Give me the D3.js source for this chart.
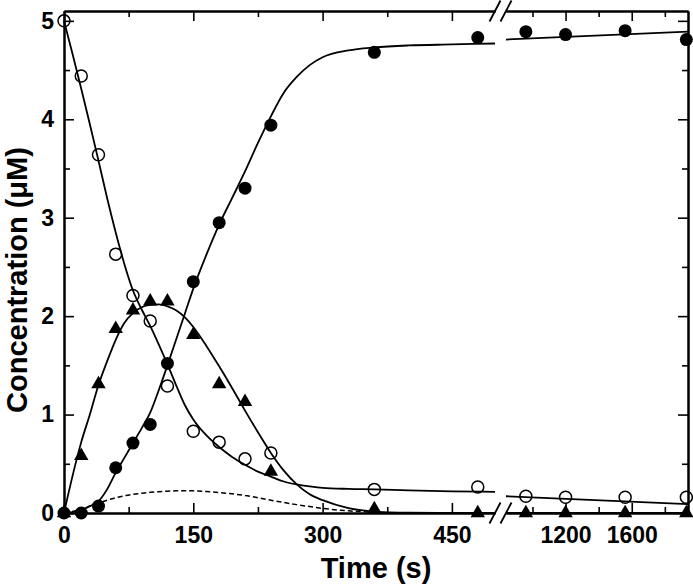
<!DOCTYPE html>
<html>
<head>
<meta charset="utf-8">
<script src="https://cdn.jsdelivr.net/npm/d3@7/dist/d3.min.js"></script>
<style>
  body { margin: 0; background: #fff; }
  svg text { font-family: "Liberation Sans", Arial, sans-serif; font-weight: bold; }
</style>
</head>
<body>
<div id="chart"></div>
<script>
// Measured points (time in s, concentration in uM)
const timeEarly = [0, 20, 40, 60, 80, 100, 120, 150, 180, 210, 240, 360, 480];
const timeLate = [960, 1200, 1560, 1930];

const substrateEarly = [5.0, 4.44, 3.64, 2.63, 2.21, 1.95, 1.29, 0.83, 0.72, 0.55, 0.61, 0.24, 0.265];
const substrateLate = [0.17, 0.16, 0.16, 0.16];
const intermediateEarly = [0, 0.58, 1.31, 1.87, 2.06, 2.15, 2.15, 1.81, 1.31, 1.13, 0.42, 0.04, 0];
const intermediateLate = [0, 0, 0, 0];
const productEarly = [0, 0, 0.07, 0.46, 0.71, 0.90, 1.52, 2.35, 2.95, 3.30, 3.94, 4.68, 4.83];
const productLate = [4.89, 4.86, 4.90, 4.81];

// Fitted curves
const fitTimeEarly = [0, 10, 20, 30, 40, 50, 60, 70, 80, 90, 100, 110, 120, 130, 140, 150, 165, 180, 195, 210, 225, 240, 255, 270, 285, 300, 330, 360, 400, 450, 500];
const fitTimeLate = [840, 1940];

const substrateFit = [5.00, 4.66, 4.31, 3.95, 3.58, 3.20, 2.85, 2.53, 2.26, 2.07, 1.90, 1.71, 1.51, 1.30, 1.10, 0.95, 0.79, 0.67, 0.57, 0.49, 0.42, 0.37, 0.32, 0.29, 0.27, 0.255, 0.245, 0.24, 0.23, 0.22, 0.215];
const substrateFitLate = [0.17, 0.09];
const intermediateFit = [0, 0.38, 0.72, 1.00, 1.30, 1.54, 1.76, 1.93, 2.03, 2.09, 2.115, 2.12, 2.10, 2.06, 1.99, 1.89, 1.70, 1.49, 1.27, 1.04, 0.82, 0.61, 0.43, 0.29, 0.19, 0.13, 0.05, 0.015, 0.003, 0, 0];
const intermediateFitLate = [0, 0];
const productFit = [0, 0.01, 0.03, 0.07, 0.12, 0.24, 0.41, 0.56, 0.71, 0.86, 1.02, 1.25, 1.50, 1.76, 2.02, 2.28, 2.62, 2.93, 3.20, 3.47, 3.76, 4.03, 4.27, 4.43, 4.55, 4.63, 4.70, 4.73, 4.75, 4.76, 4.77];
const productFitLate = [4.81, 4.89];
const dashedFit = [0, 0.015, 0.04, 0.07, 0.10, 0.13, 0.155, 0.175, 0.19, 0.20, 0.21, 0.217, 0.222, 0.225, 0.226, 0.225, 0.218, 0.208, 0.195, 0.178, 0.155, 0.13, 0.107, 0.085, 0.065, 0.047, 0.022, 0.008, 0.001, 0, 0];

// Axis ticks
const xMajorEarly = [0, 150, 300, 450];
const xMinorEarly = [75, 225, 375];
const xMajorLate = [1200, 1600];
const xMinorLate = [1000, 1400, 1800];
const yMajor = [0, 1, 2, 3, 4, 5];
const yMinor = [0.5, 1.5, 2.5, 3.5, 4.5];

const width = 693, height = 588;
const font = '"Liberation Sans", Arial, sans-serif';

const svg = d3.select("#chart")
    .append("svg")
    .attr("width", width)
    .attr("height", height);

// Broken x axis: two linear pieces
const xEarly = d3.scaleLinear().domain([0, 500]).range([64, 495]);
const xLate = d3.scaleLinear().domain([840, 1940]).range([506, 688]);
const y = d3.scaleLinear().domain([0, 5.1]).range([513, 11]);

const plotTop = y.range()[1], plotBottom = y.range()[0];

function styleAxis(g, size) {
    g.attr("font-family", font).attr("font-size", size).attr("font-weight", "bold");
    g.select(".domain").attr("stroke-width", 2);
    g.selectAll(".tick line").attr("stroke-width", 1.6);
    g.selectAll(".tick text").attr("fill", "#000");
}

// Bottom and top axes for both pieces
[[xEarly, xMajorEarly, xMinorEarly], [xLate, xMajorLate, xMinorLate]].forEach(([sc, major, minor]) => {
    svg.append("g")
        .attr("transform", `translate(0,${plotBottom})`)
        .call(d3.axisBottom(sc).tickValues(major).tickSizeInner(-10).tickSizeOuter(0).tickPadding(14).tickFormat(d3.format("d")))
        .call(g => styleAxis(g, 23));
    svg.append("g")
        .attr("transform", `translate(0,${plotBottom})`)
        .call(d3.axisBottom(sc).tickValues(minor).tickSizeInner(-6).tickSizeOuter(0).tickFormat(""))
        .call(g => styleAxis(g, 23));
    svg.append("g")
        .attr("transform", `translate(0,${plotTop})`)
        .call(d3.axisTop(sc).tickValues(major).tickSizeInner(-10).tickSizeOuter(0).tickFormat(""))
        .call(g => styleAxis(g, 23));
    svg.append("g")
        .attr("transform", `translate(0,${plotTop})`)
        .call(d3.axisTop(sc).tickValues(minor).tickSizeInner(-6).tickSizeOuter(0).tickFormat(""))
        .call(g => styleAxis(g, 23));
});

// Left and right axes
svg.append("g")
    .attr("transform", `translate(${xEarly.range()[0]},0)`)
    .call(d3.axisLeft(y).tickValues(yMajor).tickSizeInner(-10).tickSizeOuter(0).tickPadding(10).tickFormat(d3.format("d")))
    .call(g => styleAxis(g, 23));
svg.append("g")
    .attr("transform", `translate(${xEarly.range()[0]},0)`)
    .call(d3.axisLeft(y).tickValues(yMinor).tickSizeInner(-6).tickSizeOuter(0).tickFormat(""))
    .call(g => styleAxis(g, 23));
svg.append("g")
    .attr("transform", `translate(${xLate.range()[1]},0)`)
    .call(d3.axisRight(y).tickValues(yMajor).tickSizeInner(-10).tickSizeOuter(0).tickFormat(""))
    .call(g => styleAxis(g, 23));
svg.append("g")
    .attr("transform", `translate(${xLate.range()[1]},0)`)
    .call(d3.axisRight(y).tickValues(yMinor).tickSizeInner(-6).tickSizeOuter(0).tickFormat(""))
    .call(g => styleAxis(g, 23));

// Axis break marks "//" at the top and bottom
[plotTop, plotBottom].forEach(yy => {
    [xEarly.range()[1], xLate.range()[0]].forEach(xx => {
        svg.append("line")
            .attr("x1", xx - 5.5).attr("y1", yy + 10.5)
            .attr("x2", xx + 5.5).attr("y2", yy - 10.5)
            .attr("stroke", "#000").attr("stroke-width", 1.8);
    });
});

// Axis labels
svg.append("text")
    .attr("transform", "rotate(-90)")
    .attr("x", -280)
    .attr("y", 27)
    .attr("text-anchor", "middle")
    .attr("font-size", 29)
    .text("Concentration (μM)");

svg.append("text")
    .attr("x", (xEarly.range()[0] + xLate.range()[1]) / 2)
    .attr("y", 578)
    .attr("text-anchor", "middle")
    .attr("font-size", 29)
    .text("Time (s)");

// Fitted curves
function drawCurve(times, values, sc, dashed) {
    const line = d3.line()
        .x((d, i) => sc(times[i]))
        .y(d => y(d))
        .curve(d3.curveMonotoneX);
    svg.append("path")
        .datum(values)
        .attr("fill", "none")
        .attr("stroke", "#000")
        .attr("stroke-width", dashed ? 1.5 : 1.8)
        .attr("stroke-dasharray", dashed ? "5,3" : null)
        .attr("d", line);
}

drawCurve(fitTimeEarly, dashedFit, xEarly, true);
drawCurve(fitTimeEarly, substrateFit, xEarly);
drawCurve(fitTimeEarly, intermediateFit, xEarly);
drawCurve(fitTimeEarly, productFit, xEarly);
drawCurve(fitTimeLate, substrateFitLate, xLate);
drawCurve(fitTimeLate, intermediateFitLate, xLate);
drawCurve(fitTimeLate, productFitLate, xLate);

// Data points
const triangle = d3.symbol().type(d3.symbolTriangle).size(90);

function drawPoints(times, values, sc, kind) {
    values.forEach((v, i) => {
        const cx = sc(times[i]), cy = y(v);
        if (kind === "triangle") {
            svg.append("path")
                .attr("d", triangle())
                .attr("transform", `translate(${cx},${cy})`)
                .attr("fill", "#000");
        } else if (kind === "filled") {
            svg.append("circle")
                .attr("cx", cx).attr("cy", cy).attr("r", 6.5)
                .attr("fill", "#000");
        } else {
            svg.append("circle")
                .attr("cx", cx).attr("cy", cy).attr("r", 6)
                .attr("fill", "none")
                .attr("stroke", "#000").attr("stroke-width", 1.5);
        }
    });
}

drawPoints(timeEarly, intermediateEarly, xEarly, "triangle");
drawPoints(timeLate, intermediateLate, xLate, "triangle");
drawPoints(timeEarly, productEarly, xEarly, "filled");
drawPoints(timeLate, productLate, xLate, "filled");
drawPoints(timeEarly, substrateEarly, xEarly, "open");
drawPoints(timeLate, substrateLate, xLate, "open");
</script>
</body>
</html>
